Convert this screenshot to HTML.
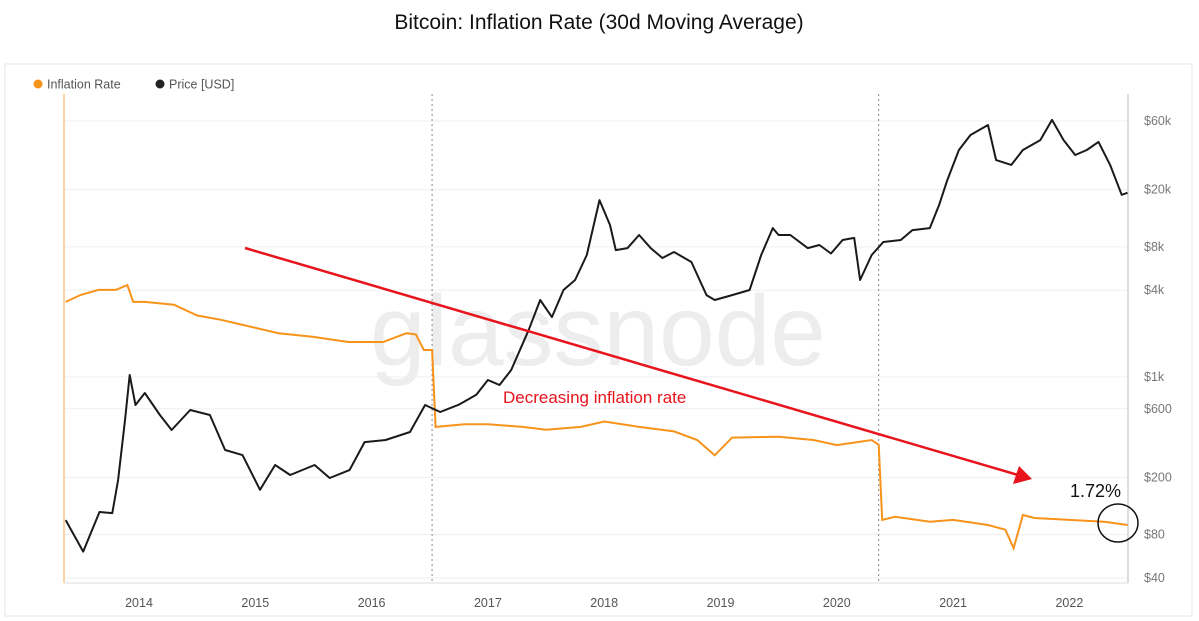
<!DOCTYPE html>
<html><head><meta charset="utf-8"><style>
body{margin:0;background:#fff;font-family:"Liberation Sans",sans-serif;}
svg{display:block}
</style></head><body>
<svg id="chart" width="1199" height="621">
<text x="599" y="29" text-anchor="middle" font-size="21" fill="#111">Bitcoin: Inflation Rate (30d Moving Average)</text>
<rect x="5" y="64" width="1187" height="552" fill="none" stroke="#e6e6e6"/>
<g>
<g><circle cx="38" cy="84" r="4.5" fill="#f7931a"/><text x="47" y="88.5" font-size="12.5" fill="#555">Inflation Rate</text></g>
<g><circle cx="160" cy="84" r="4.5" fill="#222"/><text x="169" y="88.5" font-size="12.5" fill="#555">Price [USD]</text></g>
</g>
<g id="grid"></g>
<text x="598" y="365" text-anchor="middle" font-size="100" fill="#ededed">glassnode</text>
<g id="axes"></g>
<g id="series"></g>
<g>
<line x1="245" y1="248" x2="1018" y2="475" stroke="#e8141c" stroke-width="2.5"/>
<polygon points="1032,479 1013,484 1019,466" fill="#e8141c"/>
<text x="503" y="403" font-size="17" fill="#e8141c">Decreasing inflation rate</text>
<text x="1070" y="497" font-size="18" fill="#111">1.72%</text>
<ellipse cx="1118" cy="523" rx="20" ry="19" fill="none" stroke="#111" stroke-width="1.5"/>
</g>
</svg>
<script>
const priceYears=[2013.37,2013.52,2013.66,2013.77,2013.82,2013.88,2013.92,2013.97,2014.05,2014.18,2014.28,2014.44,2014.61,2014.74,2014.89,2015.04,2015.17,2015.30,2015.51,2015.64,2015.81,2015.94,2016.12,2016.33,2016.46,2016.59,2016.75,2016.9,2017.0,2017.1,2017.2,2017.35,2017.45,2017.55,2017.65,2017.75,2017.85,2017.96,2018.05,2018.1,2018.2,2018.3,2018.4,2018.5,2018.6,2018.75,2018.88,2018.95,2019.1,2019.25,2019.35,2019.45,2019.5,2019.6,2019.75,2019.85,2019.95,2020.05,2020.15,2020.2,2020.3,2020.4,2020.55,2020.65,2020.8,2020.88,2020.95,2021.05,2021.15,2021.3,2021.37,2021.5,2021.6,2021.75,2021.85,2021.95,2022.05,2022.15,2022.25,2022.35,2022.45,2022.5];
const priceValues=[101,61,115,113,192,500,1030,637,772,543,427,588,543,310,286,164,244,208,244,198,225,352,364,414,637,570,640,750,950,877,1115,2110,3420,2600,4010,4710,7030,16900,11350,7600,7850,9680,7850,6700,7370,6280,3700,3420,3700,4010,7030,10800,9680,9680,7850,8240,7200,8930,9230,4710,7030,8650,8930,10470,10800,15640,23300,37700,47900,56200,32100,29700,37700,44200,61000,44200,34800,37700,42900,29700,18400,19000];
const inflYears=[2013.37,2013.5,2013.65,2013.8,2013.9,2013.95,2014.05,2014.3,2014.5,2014.7,2014.9,2015.2,2015.5,2015.8,2016.1,2016.3,2016.38,2016.45,2016.52,2016.55,2016.8,2017.0,2017.3,2017.5,2017.8,2018.0,2018.3,2018.6,2018.8,2018.95,2019.1,2019.5,2019.8,2020.0,2020.3,2020.36,2020.39,2020.5,2020.8,2021.0,2021.3,2021.45,2021.52,2021.6,2021.7,2022.0,2022.3,2022.5];
const inflValues=[12.4,13.2,13.8,13.8,14.4,12.4,12.4,12.1,11.0,10.6,10.1,9.4,9.1,8.7,8.7,9.4,9.3,8.1,8.1,4.1,4.2,4.2,4.1,4.0,4.1,4.3,4.1,3.94,3.65,3.19,3.73,3.76,3.65,3.49,3.65,3.5,1.8,1.85,1.77,1.8,1.72,1.65,1.40,1.88,1.83,1.8,1.77,1.72];
const priceTicks=[60000,20000,8000,4000,1000,600,200,80,40];
const priceTickLabels=["$60k","$20k","$8k","$4k","$1k","$600","$200","$80","$40"];
const yearTicks=[2014,2015,2016,2017,2018,2019,2020,2021,2022];
const halvings=[2016.52,2020.36];

const X0=64,X1=1128,YT=94,YB=583;
const xs=y=>139+(y-2014)*116.3;
const yp=p=>578-(Math.log10(p)-Math.log10(40))*143.9;
const yi=r=>525-(Math.log10(r)-Math.log10(1.72))*260;
const NS="http://www.w3.org/2000/svg";
function mk(tag,attrs,parent){const e=document.createElementNS(NS,tag);for(const k in attrs)e.setAttribute(k,attrs[k]);parent.appendChild(e);return e;}
const grid=document.getElementById('grid'),axes=document.getElementById('axes'),series=document.getElementById('series');
priceTicks.forEach((t,i)=>{
 const y=yp(t);
 const g=mk('line',{x1:X0,x2:X1,y1:y,y2:y,stroke:'#efefef'},grid);
 
 
 const tx=mk('text',{x:1144,y:y+4,'font-size':12.5,fill:'#777'},axes);
 tx.textContent=priceTickLabels[i];
 
 
});
yearTicks.forEach(yr=>{
 const tx=mk('text',{x:xs(yr),y:607,'font-size':12.5,fill:'#555','text-anchor':'middle'},axes);
 tx.textContent=yr;
 
 
});
halvings.forEach(h=>{
 const l=mk('line',{x1:xs(h),x2:xs(h),y1:YT,y2:YB,stroke:'#888','stroke-dasharray':'2,3'},axes);
 
 
});
let l=mk('line',{x1:X0,x2:X0,y1:YT,y2:YB,stroke:'#fbd5a5','stroke-width':2},axes);


l=mk('line',{x1:X1,x2:X1,y1:YT,y2:YB,stroke:'#bbb'},axes);


l=mk('line',{x1:X0,x2:X1,y1:YB,y2:YB,stroke:'#ddd'},axes);


const ip=mk('polyline',{points:inflYears.map((y,i)=>xs(y).toFixed(1)+','+yi(inflValues[i]).toFixed(1)).join(' '),fill:'none',stroke:'#f7931a','stroke-width':2},series);


const pp=mk('polyline',{points:priceYears.map((y,i)=>xs(y).toFixed(1)+','+yp(priceValues[i]).toFixed(1)).join(' '),fill:'none',stroke:'#1a1a1a','stroke-width':2,'stroke-linejoin':'round'},series);


</script>
</body></html>
